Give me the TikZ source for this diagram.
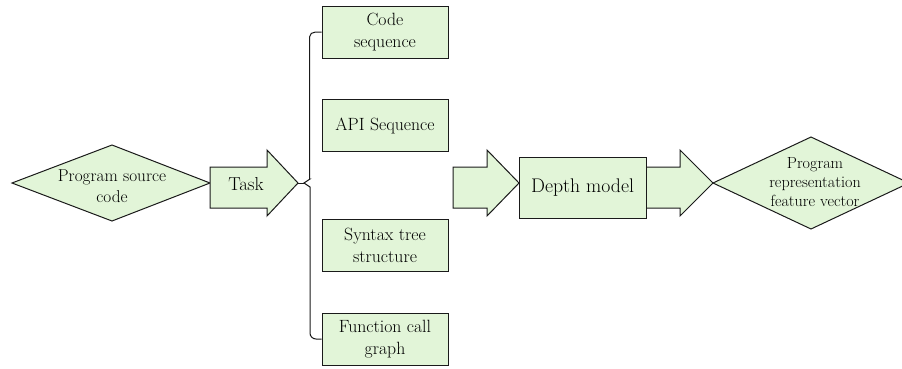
\documentclass[tikz,border=0pt]{standalone}
\definecolor{boxfill}{HTML}{E2F5D8}
\definecolor{ink}{HTML}{1A1A1A}
\begin{document}
\begin{tikzpicture}[x=1bp,y=-1bp,
  shp/.style={draw=ink,fill=boxfill,line width=1bp,line join=miter},
  box/.style={shp,rectangle,minimum width=126bp,minimum height=52bp,inner sep=0pt,align=center,
    font=\fontsize{17.8}{21.5}\selectfont,text=black},
  lbl/.style={inner sep=0pt,align=center,text=black},
  brace/.style={draw=ink,line width=1bp}]
\useasboundingbox (0,0) rectangle (902,368);
% left diamond
\draw[shp] (12,183) -- (112,145) -- (210,183) -- (112,221) -- cycle;
\node[lbl,font=\fontsize{17.3}{21.5}\selectfont] (src) at (112,186) {Program source\\code};
% task arrow
\draw[shp] (210,167) -- (267,167) -- (267,150) -- (298,183) -- (267,216) -- (267,208) -- (210,208) -- cycle;
\node[lbl,font=\fontsize{18.8}{22}\selectfont] (task) at (246,184) {Task};
\coordinate (tasktip) at (298,183);
% boxes
\node[box] (code) at (385,32) {Code\\sequence};
\node[box] (api) at (385,125.5) {API Sequence};
\node[box] (syn) at (385,245.5) {Syntax tree\\structure};
\node[box] (fun) at (385,339) {Function call\\graph};
% brace
\draw[brace] (code.west) -- ++(-6,0) to[out=180,in=90] ++(-6,5) |- (310,179) -- (304,183) -- (310,187)
  -- (310,333) to[out=-90,in=180] ++(6,6) -- (fun.west);
\draw[brace] (tasktip) -- (304,183);
% second arrow
\draw[shp] (453,167) -- (487,167) -- (487,150) -- (519,183) -- (487,216) -- (487,208) -- (453,208) -- cycle;
% third arrow
\draw[shp] (640,167) -- (680,167) -- (680,150) -- (713,183) -- (680,216) -- (680,208) -- (640,208) -- cycle;
% depth model
\node[box,minimum width=127bp,minimum height=61bp,font=\fontsize{19.8}{22}\selectfont] (depth) at (582.5,187.5) {Depth model};
% right diamond
\draw[shp] (713,183) -- (811,137) -- (909,183) -- (811,229) -- cycle;
\node[lbl,font=\fontsize{16.2}{19}\selectfont] (out) at (815,182) {Program\\representation\\feature vector};
\end{tikzpicture}
\end{document}
